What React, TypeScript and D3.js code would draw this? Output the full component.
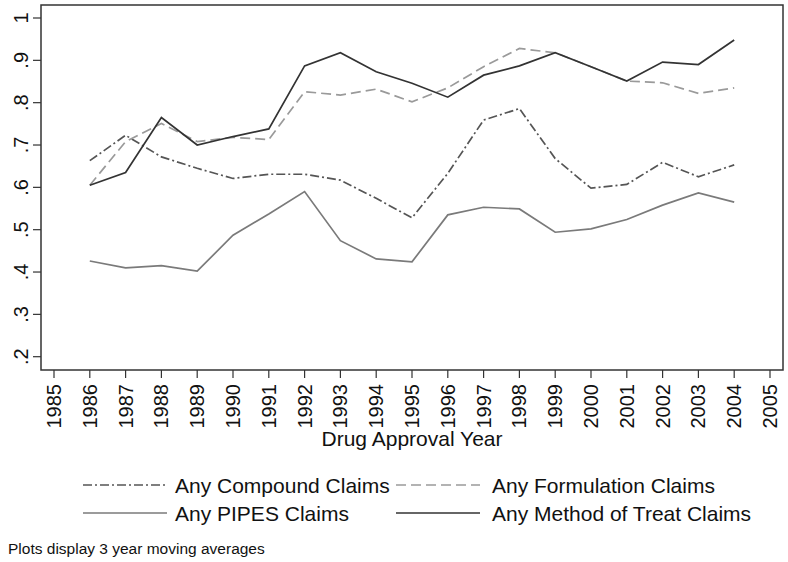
import React from "react";
import * as d3 from "d3";

const years = [1986, 1987, 1988, 1989, 1990, 1991, 1992, 1993, 1994, 1995, 1996, 1997, 1998, 1999, 2000, 2001, 2002, 2003, 2004];
const compound = [0.663, 0.723, 0.672, 0.645, 0.621, 0.631, 0.631, 0.617, 0.574, 0.528, 0.633, 0.759, 0.786, 0.668, 0.598, 0.607, 0.659, 0.625, 0.653];
const formulation = [0.605, 0.708, 0.751, 0.708, 0.718, 0.713, 0.826, 0.818, 0.832, 0.802, 0.835, 0.885, 0.928, 0.918, 0.885, 0.851, 0.847, 0.822, 0.835];
const pipes = [0.426, 0.41, 0.415, 0.402, 0.487, 0.537, 0.59, 0.474, 0.431, 0.424, 0.535, 0.553, 0.549, 0.494, 0.502, 0.524, 0.558, 0.587, 0.565];
const methodTreat = [0.605, 0.635, 0.765, 0.7, 0.72, 0.738, 0.887, 0.918, 0.873, 0.846, 0.813, 0.865, 0.887, 0.918, 0.885, 0.851, 0.896, 0.89, 0.948];
const xTicks = d3.range(1985, 2006);
const yTicks = [0.2, 0.3, 0.4, 0.5, 0.6, 0.7, 0.8, 0.9, 1];
const yTickLabels = [".2", ".3", ".4", ".5", ".6", ".7", ".8", ".9", "1"];

const seriesDefs = [
  { name: "Any Compound Claims", values: compound, color: "#555", dash: "9,3,2,3" },
  { name: "Any Formulation Claims", values: formulation, color: "#9a9a9a", dash: "10,5" },
  { name: "Any PIPES Claims", values: pipes, color: "#7a7a7a", dash: "" },
  { name: "Any Method of Treat Claims", values: methodTreat, color: "#333", dash: "" },
];

const FONT = "'Liberation Sans', Arial, Helvetica, sans-serif";

export default function App() {
  const W = 788, H = 562;
  const left = 41, right = 783, top = 5, bottom = 370;
  const x = d3.scaleLinear().domain([1985, 2005]).range([54, 770]);
  const y = d3.scaleLinear().domain([0.2, 1]).range([356.7, 18]);
  const line = d3.line<[number, number]>().x((d) => x(d[0])).y((d) => y(d[1]));

  const legendPos = [
    { lx: 83, tx: 175, ly: 485 },
    { lx: 396, tx: 492, ly: 485 },
    { lx: 83, tx: 175, ly: 513 },
    { lx: 396, tx: 492, ly: 513 },
  ];

  return (
    <svg width={W} height={H} style={{ position: "absolute", left: 0, top: 0, background: "#fff" }} fontFamily={FONT}>
      <rect x={0} y={0} width={W} height={H} fill="#fff" />
      {seriesDefs.map((s) => (
        <path
          key={s.name}
          d={line(years.map((yr, i) => [yr, s.values[i]] as [number, number])) || ""}
          fill="none"
          stroke={s.color}
          strokeWidth={1.7}
          strokeDasharray={s.dash || undefined}
          strokeLinejoin="miter"
        />
      ))}
      <rect x={left} y={top} width={right - left} height={bottom - top} fill="none" stroke="#333" strokeWidth={1.5} />
      {yTicks.map((t, i) => (
        <g key={t}>
          <line x1={left - 8} x2={left} y1={y(t)} y2={y(t)} stroke="#333" strokeWidth={1.2} />
          <text
            transform={`translate(28,${y(t)}) rotate(-90)`}
            textAnchor="middle"
            fontSize={20}
            fill="#111"
          >
            {yTickLabels[i]}
          </text>
        </g>
      ))}
      {xTicks.map((t) => (
        <g key={t}>
          <line x1={x(t)} x2={x(t)} y1={bottom} y2={bottom + 8} stroke="#333" strokeWidth={1.2} />
          <text
            transform={`translate(${x(t) + 7},${bottom + 14}) rotate(-90)`}
            textAnchor="end"
            fontSize={20}
            fill="#111"
          >
            {t}
          </text>
        </g>
      ))}
      <text x={412} y={446} textAnchor="middle" fontSize={21} fill="#111">
        Drug Approval Year
      </text>
      {seriesDefs.map((s, i) => {
        const p = legendPos[i];
        return (
          <g key={s.name}>
            <line x1={p.lx} x2={p.lx + 84} y1={p.ly} y2={p.ly} stroke={s.color} strokeWidth={1.7} strokeDasharray={s.dash || undefined} />
            <text x={p.tx} y={p.ly + 7.5} fontSize={21} fill="#111">
              {s.name}
            </text>
          </g>
        );
      })}
      <text x={8} y={554} fontSize={15.5} fill="#111">
        Plots display 3 year moving averages
      </text>
    </svg>
  );
}
